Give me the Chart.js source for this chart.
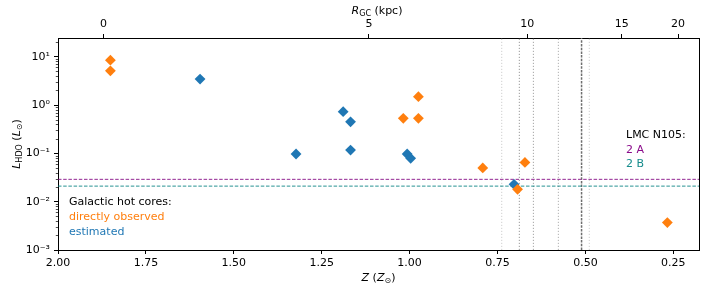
<!DOCTYPE html>
<html>
<head>
<meta charset="utf-8">
<script src="https://cdn.jsdelivr.net/npm/chart.js@4.4.1/dist/chart.umd.min.js"></script>
<style>
  html, body { margin: 0; padding: 0; background: #fff; }
  #wrap { width: 706px; height: 292px; }
</style>
</head>
<body>
<div id="wrap"><canvas id="chart1"></canvas></div>
<script>
// Galactic hot cores, directly observed (Z in Zsun, L_HDO in Lsun)
var obsZ = [1.851, 1.851, 0.975, 1.018, 0.975, 0.792, 0.672, 0.693, 0.267];
var obsL = [8.5, 5.1, 1.49, 0.53, 0.53, 0.050, 0.065, 0.018, 0.0037];
// Galactic hot cores, estimated
var estZ = [1.596, 1.189, 1.168, 1.168, 1.323, 1.007, 0.997, 0.703];
var estL = [3.45, 0.73, 0.45, 0.117, 0.097, 0.097, 0.079, 0.0229];
// LMC N105 sources
var lmcNames = ['2 A', '2 B'];
var lmcL = [0.029, 0.021];
// vertical reference lines (Z)
var vlineZ = [0.738, 0.688, 0.648, 0.577, 0.511, 0.489];

var zTicks = [2.00, 1.75, 1.50, 1.25, 1.00, 0.75, 0.50, 0.25];
var rgcTicks = [0, 5, 10, 15, 20];
var yTicks = [0.001, 0.01, 0.1, 1, 10];
var yTickLabels = ['10\u207B\u00B3', '10\u207B\u00B2', '10\u207B\u00B9', '10\u2070', '10\u00B9'];

var zMin = 0.177, zMax = 2.0, lMin = 0.001, lMax = 24.4;
var FONT = 'DejaVu Sans';
var lmcColors = ['rgba(128,0,128,0.85)', 'rgba(0,128,128,0.85)'];
var lmcTextColors = ['#8a0a8a', '#158c8c'];
var vlineStyle = [
  {c: '#cfcfcf', d: [1.2, 1.8], w: 1},
  {c: '#9a9a9a', d: [1.2, 1.8], w: 1},
  {c: '#a5a5a5', d: [1.2, 1.8], w: 1},
  {c: '#b0b0b0', d: [1.2, 1.8], w: 1},
  {c: '#6e6e6e', d: [2.5, 1.2], w: 1.5},
  {c: '#cfcfcf', d: [1.2, 1.8], w: 1}
];

// metallicity gradient used for the top axis
function zFromR(r) { return Math.pow(10, 0.272 - 0.0449 * r); }

var datasets = [
  {
    label: 'directly observed',
    data: obsZ.map(function(z, i) { return {x: z, y: obsL[i]}; }),
    backgroundColor: '#ff7f0e', borderColor: '#ff7f0e', borderWidth: 0,
    pointStyle: 'rectRot', pointRadius: 5.4, order: 0
  },
  {
    label: 'estimated',
    data: estZ.map(function(z, i) { return {x: z, y: estL[i]}; }),
    backgroundColor: '#1f77b4', borderColor: '#1f77b4', borderWidth: 0,
    pointStyle: 'rectRot', pointRadius: 5.4, order: 1
  }
];
lmcL.forEach(function(v, i) {
  datasets.push({
    label: lmcNames[i],
    data: [{x: zMax, y: v}, {x: zMin, y: v}],
    showLine: true, pointRadius: 0, borderColor: lmcColors[i],
    borderWidth: 1, borderDash: [3.5, 1.7], order: 2
  });
});
vlineZ.forEach(function(z, i) {
  datasets.push({
    label: 'v' + i,
    data: [{x: z, y: lMin}, {x: z, y: lMax}],
    showLine: true, pointRadius: 0, borderColor: vlineStyle[i].c,
    borderWidth: vlineStyle[i].w, borderDash: vlineStyle[i].d, order: 3
  });
});

function drawRich(ctx, parts, cx, cy) {
  var total = 0;
  parts.forEach(function(p) {
    ctx.font = (p.it ? 'italic ' : '') + (p.sub ? 8 : 11) + 'px "' + FONT + '"';
    p.w = ctx.measureText(p.t).width;
    total += p.w;
  });
  var x = cx - total / 2;
  parts.forEach(function(p) {
    ctx.font = (p.it ? 'italic ' : '') + (p.sub ? 8 : 11) + 'px "' + FONT + '"';
    ctx.fillText(p.t, x, cy + (p.sub ? 3 : 0));
    x += p.w;
  });
}

var annot = {
  id: 'annot',
  afterDraw: function(chart) {
    var ctx = chart.ctx, a = chart.chartArea, ys = chart.scales.y;
    ctx.save();
    // right spine
    ctx.strokeStyle = '#000'; ctx.lineWidth = 1;
    ctx.beginPath(); ctx.moveTo(a.right + 0.5, a.top); ctx.lineTo(a.right + 0.5, a.bottom); ctx.stroke();
    // minor log ticks
    ctx.lineWidth = 0.7;
    for (var e = -3; e <= 1; e++) {
      for (var k = 2; k <= 9; k++) {
        var v = k * Math.pow(10, e);
        if (v > lMax) continue;
        var py = Math.round(ys.getPixelForValue(v)) + 0.5;
        ctx.beginPath(); ctx.moveTo(a.left - 2.2, py); ctx.lineTo(a.left, py); ctx.stroke();
      }
    }
    ctx.fillStyle = '#000';
    ctx.textBaseline = 'middle';
    ctx.textAlign = 'left';
    // axis titles
    drawRich(ctx, [{t: 'R', it: true}, {t: 'GC', sub: true}, {t: ' (kpc)'}], 377, 11);
    drawRich(ctx, [{t: 'Z', it: true}, {t: ' ('}, {t: 'Z', it: true}, {t: '\u2299', sub: true}, {t: ')'}], (a.left + a.right) / 2, 278);
    ctx.save();
    ctx.translate(17, (a.top + a.bottom) / 2);
    ctx.rotate(-Math.PI / 2);
    drawRich(ctx, [{t: 'L', it: true}, {t: 'HDO', sub: true}, {t: ' ('}, {t: 'L', it: true}, {t: '\u2299', sub: true}, {t: ')'}], 0, 0);
    ctx.restore();
    // text labels
    ctx.font = '11px "' + FONT + '"';
    ctx.fillStyle = '#000';
    ctx.fillText('Galactic hot cores:', a.left + 11, 202);
    ctx.fillStyle = '#ff7f0e';
    ctx.fillText('directly observed', a.left + 11, 217);
    ctx.fillStyle = '#1f77b4';
    ctx.fillText('estimated', a.left + 11, 232);
    ctx.fillStyle = '#000';
    ctx.fillText('LMC N105:', 626, 135);
    lmcNames.forEach(function(n, i) {
      ctx.fillStyle = lmcTextColors[i];
      ctx.fillText(n, 626, 150 + i * 14);
    });
    ctx.restore();
  }
};

var tickFont = {family: FONT, size: 11};
var ctx1 = document.getElementById('chart1');
var myChart1 = new Chart(ctx1, {
  type: 'scatter',
  data: {datasets: datasets},
  options: {
    responsive: true,
    maintainAspectRatio: false,
    animation: false,
    events: [],
    layout: {padding: {left: 0, right: 7, top: 0, bottom: 0}},
    plugins: {legend: {display: false}, tooltip: {enabled: false}},
    scales: {
      x: {
        type: 'linear', position: 'bottom', min: zMin, max: zMax, reverse: true, bounds: 'data',
        afterBuildTicks: function(s) { s.ticks = zTicks.map(function(v) { return {value: v}; }); },
        afterFit: function(s) { s.height = 42; },
        ticks: {font: tickFont, color: '#000', padding: 3, maxRotation: 0, autoSkip: false,
          callback: function(v) { return v.toFixed(2); }},
        grid: {drawOnChartArea: false, tickLength: 4, color: '#000'},
        border: {color: '#000', width: 1}
      },
      x2: {
        type: 'linear', position: 'top', min: zMin, max: zMax, reverse: true, bounds: 'data',
        afterBuildTicks: function(s) { s.ticks = rgcTicks.map(function(r) { return {value: zFromR(r)}; }); },
        afterFit: function(s) { s.height = 38; },
        ticks: {font: tickFont, color: '#000', padding: 3, maxRotation: 0, autoSkip: false,
          callback: function(v, i) { return String(rgcTicks[i]); }},
        grid: {drawOnChartArea: false, tickLength: 4, color: '#000'},
        border: {color: '#000', width: 1}
      },
      y: {
        type: 'logarithmic', min: lMin, max: lMax, bounds: 'data',
        afterBuildTicks: function(s) { s.ticks = yTicks.map(function(v) { return {value: v}; }); },
        afterFit: function(s) { s.width = 58; },
        ticks: {font: tickFont, color: '#000', padding: 4, autoSkip: false,
          callback: function(v, i) { return yTickLabels[i]; }},
        grid: {drawOnChartArea: false, tickLength: 4, color: '#000'},
        border: {color: '#000', width: 1}
      }
    }
  },
  plugins: [annot]
});
</script>
</body>
</html>
